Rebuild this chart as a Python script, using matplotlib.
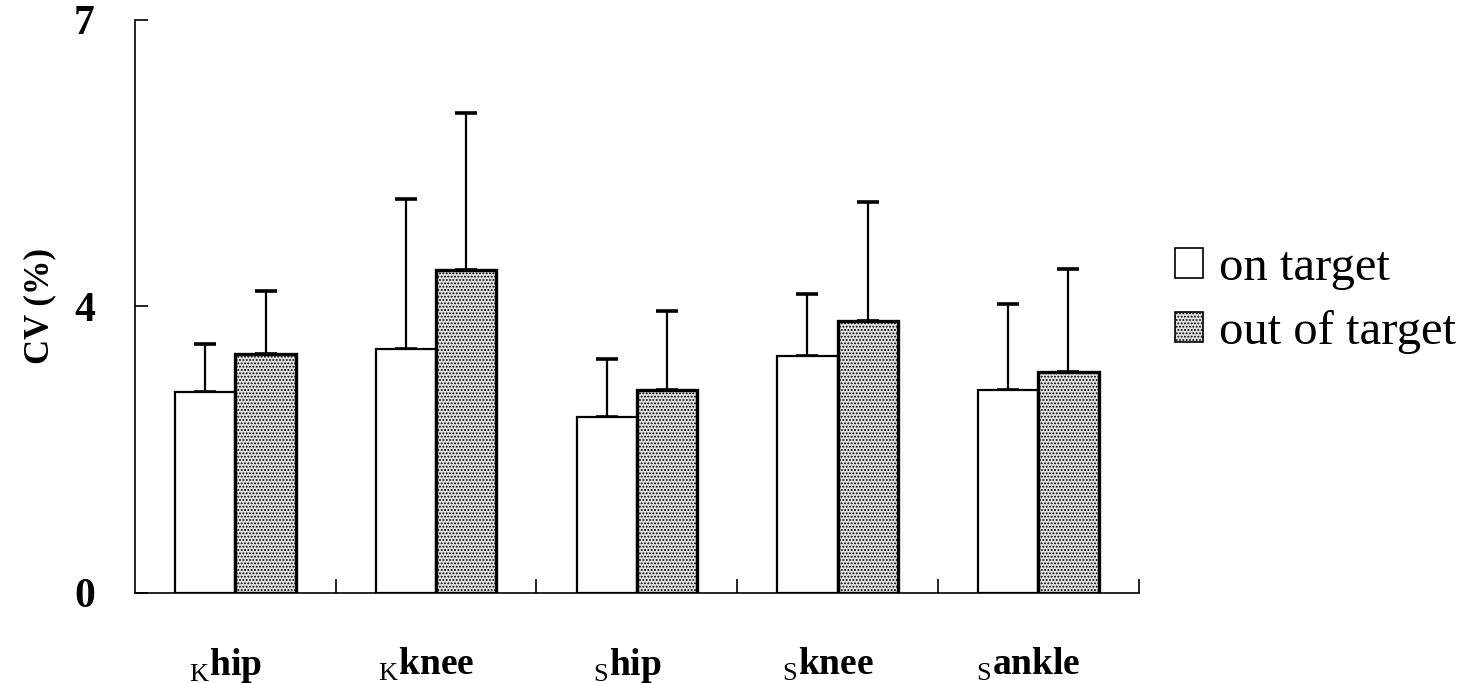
import numpy as np
import matplotlib
matplotlib.use("Agg")
import matplotlib.pyplot as plt
import matplotlib.transforms as mtransforms
from matplotlib.patches import Patch

plt.rcParams['font.family'] = ['Liberation Serif', 'DejaVu Serif']
plt.rcParams['mathtext.fontset'] = 'custom'
plt.rcParams['mathtext.rm'] = 'Liberation Serif'
plt.rcParams['mathtext.bf'] = 'Liberation Serif:bold'
plt.rcParams['hatch.linewidth'] = 0.9

# data
labels = [r'$_\mathrm{K}$hip', r'$_\mathrm{K}$knee', r'$_\mathrm{S}$hip',
          r'$_\mathrm{S}$knee', r'$_\mathrm{S}$ankle']
on_mean = [2.81, 3.41, 2.46, 3.30, 2.83]
on_sd = [0.66, 1.71, 0.80, 0.83, 1.19]
out_mean = [3.33, 4.38, 2.83, 3.79, 3.08]
out_sd = [0.83, 1.64, 1.10, 1.30, 1.31]
yticks = [0, 4, 7]


# the original axis puts 0, 4 and 7 at equal spacing
def fwd(y):
    y = np.asarray(y, dtype=float)
    return np.where(y <= 4, y / 4.0, 1 + (y - 4) / 3.0)


def inv(v):
    v = np.asarray(v, dtype=float)
    return np.where(v <= 1, v * 4.0, 4 + (v - 1) * 3.0)


fig = plt.figure(figsize=(14.63, 6.83), dpi=100)
ax = fig.add_axes([0.0923, 0.132, 0.686, 0.839])
ax.set_yscale('function', functions=(fwd, inv))

x = np.arange(len(labels)) + 0.5
w = 0.3
ax.bar(x - w / 2, on_mean, w, facecolor='white', edgecolor='black', linewidth=1.6, zorder=2)
ax.bar(x + w / 2, out_mean, w, facecolor='#e4e4e4', edgecolor='black', linewidth=2.4,
       hatch='.....', zorder=2)
ax.errorbar(x - w / 2, on_mean, yerr=[np.zeros(5), on_sd], fmt='none', ecolor='black',
            elinewidth=1.6, capsize=8, capthick=2.6, zorder=1)
ax.errorbar(x + w / 2, out_mean, yerr=[np.zeros(5), out_sd], fmt='none', ecolor='black',
            elinewidth=1.6, capsize=8, capthick=2.6, zorder=1)

ax.set_xlim(0, 5)
ax.set_ylim(0, 7)
ax.set_yticks(yticks)
ax.set_yticklabels([str(t) for t in yticks], fontweight='bold', fontsize=30)
ax.tick_params(axis='y', direction='in', length=9, width=1.2, pad=29)
ax.set_xticks(x)
ax.set_xticklabels(labels, fontweight='bold', fontsize=27)
ax.tick_params(axis='x', which='major', length=0, pad=38)
ax.set_xticks(np.arange(1, 6), minor=True)
ax.tick_params(axis='x', which='minor', direction='in', length=10, width=1.2)
shift = mtransforms.ScaledTranslation(-10 / 100, 0, fig.dpi_scale_trans)
for lab in ax.get_xticklabels():
    lab.set_transform(lab.get_transform() + shift)

for s in ['top', 'right']:
    ax.spines[s].set_visible(False)
ax.spines['left'].set_linewidth(1.2)
ax.spines['bottom'].set_linewidth(1.2)

ax.set_ylabel('CV (%)', fontweight='bold', fontsize=25)
ax.yaxis.set_label_coords(-0.078, 0.5)

handles = [Patch(facecolor='white', edgecolor='black', linewidth=1.2),
           Patch(facecolor='#e4e4e4', edgecolor='black', linewidth=1.2, hatch='.....')]
fig.legend(handles, ['on target', 'out of target'], loc='center left',
           bbox_to_anchor=(1175 / 1463, 1 - 300 / 683), frameon=False, fontsize=35,
           handlelength=0.57, handleheight=0.57, handletextpad=0.33, labelspacing=0.4,
           borderpad=0, borderaxespad=0)

fig.savefig('out.png', dpi=100)
